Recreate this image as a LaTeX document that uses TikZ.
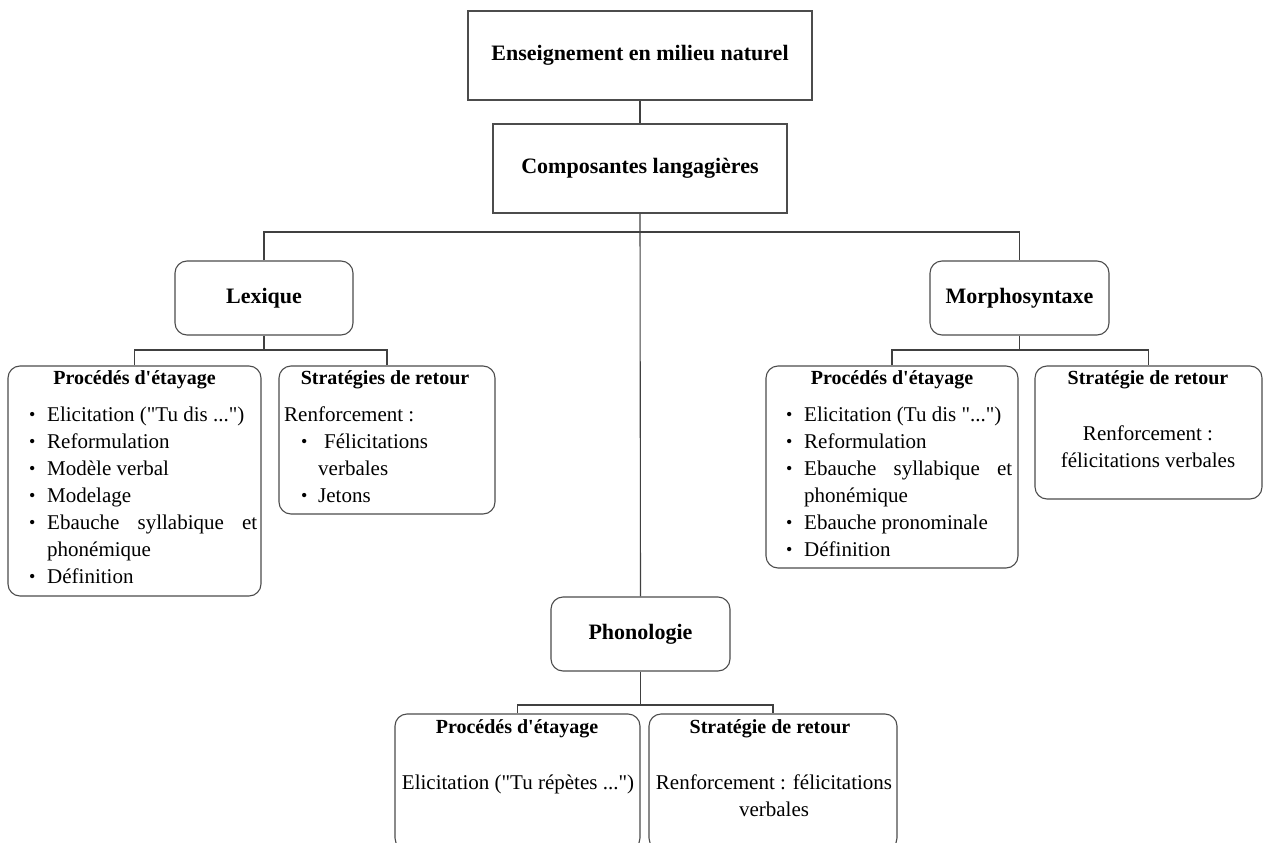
\documentclass[tikz,border=0pt]{standalone}
\usepackage{fontspec}
\setmainfont{Liberation Serif}[Ligatures=TeXOff]
\hyphenpenalty=10000 \exhyphenpenalty=10000 \tolerance=10000
\setlength{\parskip}{0pt}
\tikzset{
 x=1pt, y=-1pt,
 ln/.style={draw=black!75, line width=1.1pt},
 sqbox/.style={draw=black!70, line width=1.1pt, inner sep=0pt, font=\fontsize{22}{26}\selectfont\bfseries},
 rbox/.style={sqbox, rounded corners=12pt},
 ttl/.style={inner sep=0pt, anchor=base, font=\fontsize{20}{24}\selectfont\bfseries},
 body/.style={inner sep=0pt, anchor=base, font=\fontsize{21}{27}\selectfont},
 lst/.style={inner sep=0pt, anchor=north west, align=justify, font=\fontsize{21}{27}\selectfont},
}
\newcommand{\bul}{\raisebox{0.5pt}{\fontsize{18}{18}\selectfont\textbullet}}
\newcommand{\bitem}[3]{\par\noindent\hangindent=#1\hangafter=1\makebox[#1][l]{\hspace{#2}\bul}\strut #3\par}
\begin{document}
\begin{tikzpicture}
\clip (0,0) rectangle (1264,843);
% main boxes
\node[sqbox, minimum width=344pt, minimum height=89pt] (top) at (640,55.5) {Enseignement en milieu naturel};
\node[sqbox, minimum width=294pt, minimum height=89pt] (comp) at (640,168.5) {Composantes langagières};
\node[rbox, minimum width=178pt, minimum height=74pt] (lex) at (264,298) {Lexique};
\node[rbox, minimum width=179pt, minimum height=74pt] (mor) at (1019.5,298) {Morphosyntaxe};
\node[rbox, minimum width=179pt, minimum height=74pt] (phon) at (640.5,634) {Phonologie};
% sub boxes
\node[rbox, minimum width=253pt, minimum height=230pt] (lexp) at (134.5,481) {};
\node[rbox, minimum width=216pt, minimum height=148pt] (lexs) at (387,440) {};
\node[rbox, minimum width=252pt, minimum height=202pt] (morp) at (892,467) {};
\node[rbox, minimum width=227pt, minimum height=133pt] (mors) at (1148.5,432.5) {};
\node[rbox, minimum width=245pt, minimum height=136pt] (phop) at (517.5,782) {};
\node[rbox, minimum width=248pt, minimum height=136pt] (phos) at (773,782) {};
% titles
\node[ttl] (lexpt) at (134.5,384) {Procédés d'étayage};
\node[ttl] (lexst) at (385,384) {Stratégies de retour};
\node[ttl] (morpt) at (892,384) {Procédés d'étayage};
\node[ttl] (morst) at (1148,384) {Stratégie de retour};
\node[ttl] (phopt) at (517,733) {Procédés d'étayage};
\node[ttl] (phost) at (770,733) {Stratégie de retour};
% lists
\node[lst, text width=228pt] (lexpl) at (29,394.1) {%
\bitem{18pt}{0pt}{Elicitation ("Tu dis ...")}%
\bitem{18pt}{0pt}{Reformulation}%
\bitem{18pt}{0pt}{Modèle verbal}%
\bitem{18pt}{0pt}{Modelage}%
\bitem{18pt}{0pt}{Ebauche syllabique et\linebreak phonémique}%
\bitem{18pt}{0pt}{Définition}};
\node[lst, text width=205pt] (lexsl) at (284,394.1) {%
\par\noindent\strut Renforcement :\par
\bitem{34pt}{17pt}{\hspace{6pt}Félicitations\newline verbales}%
\bitem{34pt}{17pt}{Jetons}};
\node[lst, text width=226pt] (morpl) at (786,394.1) {%
\bitem{18pt}{0pt}{Elicitation (Tu dis "...")}%
\bitem{18pt}{0pt}{Reformulation}%
\bitem{18pt}{0pt}{Ebauche syllabique et\linebreak phonémique}%
\bitem{18pt}{0pt}{Ebauche pronominale}%
\bitem{18pt}{0pt}{Définition}};
% plain texts
\node[body] (morsa) at (1148,440) {Renforcement :};
\node[body] (morsb) at (1148,467) {félicitations verbales};
\node[body] (phopa) at (518,789) {Elicitation ("Tu répètes ...")};
\node[body] (phosa) at (774,789) {Renforcement : félicitations};
\node[body] (phosb) at (774,816) {verbales};
% connectors
\coordinate (bus) at (640,232);
\coordinate (lexb) at (264,350);
\coordinate (morb) at (1019.5,350);
\coordinate (phonb) at (640.5,705);
\draw[ln] (top.south) -- (comp.north);
\draw[ln] (comp.south) -- (phon.north);
\draw[ln] (lex.north) |- (bus) -| (mor.north);
\draw[ln] (lex.south) -- (lexb);
\draw[ln] (lexp.north) |- (lexb) -| (lexs.north);
\draw[ln] (mor.south) -- (morb);
\draw[ln] (morp.north) |- (morb) -| (mors.north);
\draw[ln] (phon.south) -- (phonb);
\draw[ln] (phop.north) |- (phonb) -| (phos.north);
\end{tikzpicture}
\end{document}
